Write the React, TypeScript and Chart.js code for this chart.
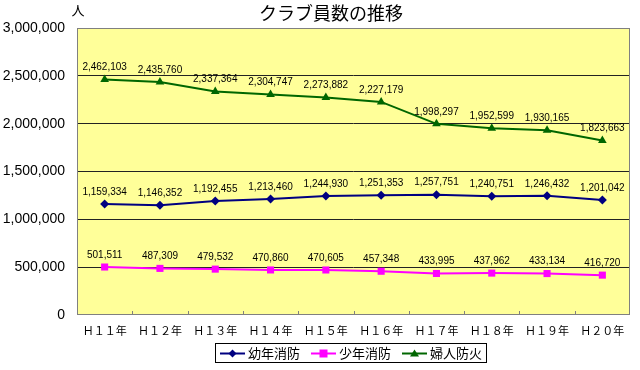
import React, { useEffect, useRef } from "react";
import { Chart, registerables } from "chart.js";

Chart.register(...registerables);

const categories = ["Ｈ１１年", "Ｈ１２年", "Ｈ１３年", "Ｈ１４年", "Ｈ１５年", "Ｈ１６年", "Ｈ１７年", "Ｈ１８年", "Ｈ１９年", "Ｈ２０年"];
const youthValues = [1159334, 1146352, 1192455, 1213460, 1244930, 1251353, 1257751, 1240751, 1246432, 1201042];
const juniorValues = [501511, 487309, 479532, 470860, 470605, 457348, 433995, 437962, 433134, 416720];
const womenValues = [2462103, 2435760, 2337364, 2304747, 2273882, 2227179, 1998297, 1952599, 1930165, 1823663];
const seriesNames = ["幼年消防", "少年消防", "婦人防火"];
const seriesColors = ["#000080", "#FF00FF", "#006600"];
const seriesPointStyles = ["rectRot", "rect", "triangle"];
const titleText = "クラブ員数の推移";
const unitText = "人";

const fmt = (v: number) => v.toLocaleString("en-US");
const JP = '"Noto Sans CJK JP", "Noto Sans", sans-serif';
const SANS = '"Liberation Sans", Arial, sans-serif';

const decorPlugin = {
  id: "decor",
  beforeDraw(chart: any) {
    const { ctx, chartArea: a } = chart;
    ctx.save();
    ctx.fillStyle = "#FFFF99";
    ctx.fillRect(a.left, a.top, a.right - a.left, a.bottom - a.top);
    ctx.restore();
  },
  beforeDatasetsDraw(chart: any) {
    const { ctx, chartArea: a } = chart;
    ctx.save();
    ctx.strokeStyle = "#808080";
    ctx.lineWidth = 1;
    const n = categories.length;
    const w = (a.right - a.left) / n;
    ctx.beginPath();
    for (let i = 1; i < n; i++) {
      const x = Math.round(a.left + i * w) + 0.5;
      ctx.moveTo(x, a.bottom);
      ctx.lineTo(x, a.bottom - 4);
    }
    ctx.stroke();
    ctx.strokeRect(Math.round(a.left) + 0.5, Math.round(a.top) + 0.5, Math.round(a.right - a.left) - 1, Math.round(a.bottom - a.top) - 1);
    ctx.restore();
  },
  afterDatasetsDraw(chart: any) {
    const { ctx } = chart;
    ctx.save();
    ctx.font = `10px ${SANS}`;
    ctx.fillStyle = "#000";
    ctx.textAlign = "center";
    ctx.textBaseline = "middle";
    chart.data.datasets.forEach((ds: any, di: number) => {
      const meta = chart.getDatasetMeta(di);
      meta.data.forEach((pt: any, i: number) => {
        ctx.fillText(fmt(ds.data[i]), pt.x, pt.y - 12);
      });
    });
    ctx.restore();
  },
  afterDraw(chart: any) {
    const { ctx } = chart;
    ctx.save();
    ctx.fillStyle = "#000";
    ctx.textAlign = "center";
    ctx.textBaseline = "middle";
    ctx.font = `normal 18px ${JP}`;
    ctx.fillText(titleText, 331, 13);
    ctx.font = `13px ${JP}`;
    ctx.fillText(unitText, 78, 10);
    const lx = 215, ly = 343, lw = 271, lh = 19;
    ctx.strokeStyle = "#000";
    ctx.lineWidth = 1;
    ctx.strokeRect(lx + 0.5, ly + 0.5, lw, lh);
    const cy = ly + lh / 2 + 1;
    const itemX = [220, 311, 402];
    ctx.font = `13px ${JP}`;
    ctx.textAlign = "left";
    seriesNames.forEach((name, i) => {
      const x0 = itemX[i];
      ctx.strokeStyle = seriesColors[i];
      ctx.fillStyle = seriesColors[i];
      ctx.lineWidth = 2;
      ctx.beginPath();
      ctx.moveTo(x0, cy);
      ctx.lineTo(x0 + 25, cy);
      ctx.stroke();
      const mx = x0 + 12.5;
      ctx.beginPath();
      if (seriesPointStyles[i] === "rectRot") {
        ctx.moveTo(mx, cy - 4);
        ctx.lineTo(mx + 4, cy);
        ctx.lineTo(mx, cy + 4);
        ctx.lineTo(mx - 4, cy);
      } else if (seriesPointStyles[i] === "rect") {
        ctx.rect(mx - 4, cy - 4, 8, 8);
      } else {
        ctx.moveTo(mx, cy - 4);
        ctx.lineTo(mx + 4.5, cy + 3);
        ctx.lineTo(mx - 4.5, cy + 3);
      }
      ctx.closePath();
      ctx.fill();
      ctx.fillStyle = "#000";
      ctx.fillText(name, x0 + 28, cy);
    });
    ctx.restore();
  },
};

export default function App() {
  const ref = useRef<HTMLCanvasElement | null>(null);
  useEffect(() => {
    if (!ref.current) return;
    const values = [youthValues, juniorValues, womenValues];
    const chart = new Chart(ref.current, {
      type: "line",
      data: {
        labels: categories,
        datasets: seriesNames.map((name, i) => ({
          label: name,
          data: values[i],
          borderColor: seriesColors[i],
          backgroundColor: seriesColors[i],
          borderWidth: 2,
          pointStyle: seriesPointStyles[i] as any,
          pointRadius: i === 0 ? 4.5 : 5,
          pointBorderWidth: 0,
          pointBackgroundColor: seriesColors[i],
          tension: 0,
          fill: false,
        })),
      },
      options: {
        animation: false,
        responsive: false,
        maintainAspectRatio: false,
        layout: { padding: { left: 0, right: 10, top: 28, bottom: 25 } },
        plugins: {
          legend: { display: false },
          title: { display: false },
          tooltip: { enabled: false },
        },
        scales: {
          x: {
            offset: true,
            grid: { display: false, drawTicks: false },
            border: { display: false },
            ticks: {
              font: { size: 11, family: JP },
              color: "#000",
              padding: 9,
              maxRotation: 0,
              autoSkip: false,
            },
            afterFit: (s: any) => { s.height = 30; },
          },
          y: {
            min: 0,
            max: 3000000,
            grid: {
              drawTicks: false,
              color: (c: any) => (c.tick && (c.tick.value === 0 || c.tick.value === 3000000) ? "rgba(0,0,0,0)" : "#222"),
              lineWidth: 1,
            },
            border: { display: false },
            ticks: {
              stepSize: 500000,
              callback: (v: any) => fmt(Number(v)),
              font: { size: 14, family: SANS },
              color: "#000",
              padding: 12,
            },
            afterFit: (s: any) => { s.width = 77; },
          },
        },
      },
      plugins: [decorPlugin],
    });
    return () => chart.destroy();
  }, []);
  return (
    <div style={{ position: "absolute", left: 0, top: 0, width: 640, height: 370, background: "#fff" }}>
      <canvas ref={ref} width={640} height={370} style={{ width: 640, height: 370, display: "block" }} />
    </div>
  );
}
